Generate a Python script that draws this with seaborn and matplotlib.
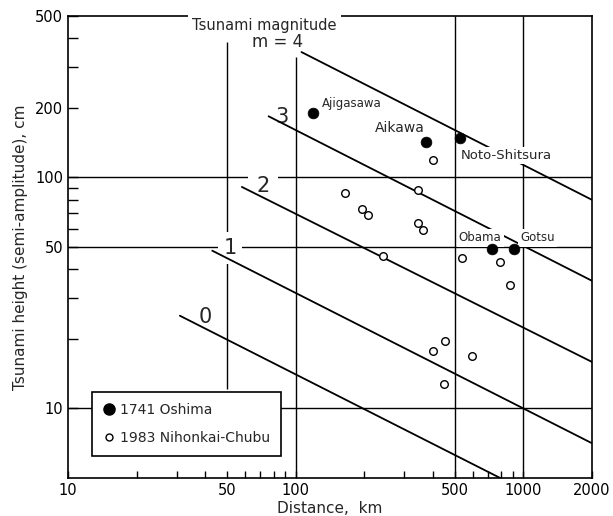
import numpy as np
import pandas as pd
import matplotlib.pyplot as plt
import matplotlib.ticker as mticker
from matplotlib.lines import Line2D
import seaborn as sns

# magnitude lines m = 0..4, straight on log-log paper (start / end)
mag_labels = ['0', '1', '2', '3', '4']
line_start_km = [31, 43, 58, 76, 106]
line_start_cm = [25.2, 48.2, 91, 184, 349]
line_end_km = [800, 2000, 2000, 2000, 2000]
line_end_cm = [4.97, 7.07, 15.9, 35.7, 80]

# 1741 Oshima (filled) and 1983 Nihonkai-Chubu (open) observations
oshima_names = ['Ajigasawa', 'Aikawa', 'Noto-Shitsura', 'Obama', 'Gotsu']
oshima_km = [119, 372, 524, 725, 912]
oshima_cm = [191, 143, 148, 49, 49]

chubu_km = [399, 164, 343, 195, 207, 343, 361, 241, 535, 785, 877, 451, 399, 597, 446]
chubu_cm = [119, 86, 88, 73, 69, 63.6, 59, 45.7, 44.8, 43, 34.2, 19.5, 17.8, 16.8, 12.7]

xtick_vals = [10, 50, 100, 500, 1000, 2000]
ytick_vals = [10, 50, 100, 200, 500]

sns.set_style('ticks')
plt.rcParams['font.family'] = ['DejaVu Sans']

fig, ax = plt.subplots(figsize=(6.13, 5.16), dpi=100)
fig.subplots_adjust(left=68/613, right=592/613, top=1-16/516, bottom=1-478/516)

ax.set_xscale('log')
ax.set_yscale('log')
ax.set_xlim(10, 2000)
ax.set_ylim(5, 500)

# grid lines (only a few, drawn by hand on the original)
for yv in [10, 50, 100]:
    ax.axhline(yv, color='black', lw=1.0, zorder=1)
ax.vlines(50, 12.2, 385, color='black', lw=1.0, zorder=1)
ax.vlines(100, 5, 332, color='black', lw=1.0, zorder=1)
ax.vlines([500, 1000], 5, 500, color='black', lw=1.0, zorder=1)

for i in range(len(mag_labels)):
    seg = pd.DataFrame({'km': [line_start_km[i], line_end_km[i]],
                        'cm': [line_start_cm[i], line_end_cm[i]]})
    sns.lineplot(data=seg, x='km', y='cm', color='black', lw=1.3, ax=ax, zorder=3)

oshima = pd.DataFrame({'km': oshima_km, 'cm': oshima_cm})
chubu = pd.DataFrame({'km': chubu_km, 'cm': chubu_cm})
sns.scatterplot(data=oshima, x='km', y='cm', color='black', s=60, edgecolor='black',
                linewidth=0.5, ax=ax, zorder=6)
sns.scatterplot(data=chubu, x='km', y='cm', facecolor='white', edgecolor='black',
                s=30, linewidth=1.0, ax=ax, zorder=6)

white = dict(facecolor='white', edgecolor='none', pad=1.5)
ax.text(73, 457, 'Tsunami magnitude', fontsize=10.5, ha='center', va='center',
        bbox=dict(facecolor='white', edgecolor='none', pad=3), zorder=5, clip_on=False)
ax.text(83, 385, 'm = 4', fontsize=12, ha='center', va='center', zorder=5)
ax.text(87, 182, '3', fontsize=15, ha='center', va='center', zorder=2)
ax.text(71.6, 92, '2', fontsize=15, ha='center', va='center', zorder=2,
        bbox=dict(facecolor='white', edgecolor='none', pad=6))
ax.text(51.4, 49.5, '1', fontsize=15, ha='center', va='center', zorder=2,
        bbox=dict(facecolor='white', edgecolor='none', pad=4))
ax.text(40, 24.8, '0', fontsize=15, ha='center', va='center', zorder=2)

ax.text(130, 209, 'Ajigasawa', fontsize=8.5, ha='left', va='center', zorder=5)
ax.text(368, 163, 'Aikawa', fontsize=10, ha='right', va='center', zorder=5)
ax.text(528, 124.5, 'Noto-Shitsura', fontsize=9.5, ha='left', va='center', zorder=5, bbox=white)
ax.text(520, 54.7, 'Obama', fontsize=8.5, ha='left', va='center', zorder=5, bbox=white)
ax.text(965, 54.7, 'Gotsu', fontsize=8.5, ha='left', va='center', zorder=5, bbox=white)

ax.set_xticks(xtick_vals)
ax.set_xticklabels([str(v) for v in xtick_vals])
ax.set_yticks(ytick_vals)
ax.set_yticklabels([str(v) for v in ytick_vals])
ax.xaxis.set_minor_locator(mticker.FixedLocator([20, 30, 40, 60, 70, 80, 90, 200, 300, 400,
                                                 600, 700, 800, 900]))
ax.yaxis.set_minor_locator(mticker.FixedLocator([20, 30, 40, 60, 70, 80, 90, 300, 400]))
ax.xaxis.set_minor_formatter(mticker.NullFormatter())
ax.yaxis.set_minor_formatter(mticker.NullFormatter())
ax.tick_params(axis='both', which='both', direction='in', width=1.0, labelsize=10.5,
               color='black', labelcolor='black')
ax.tick_params(axis='y', which='both', length=7)
ax.tick_params(axis='x', which='both', length=5)
for s in ax.spines.values():
    s.set_color('black')
    s.set_linewidth(1.2)

ax.set_xlabel('Distance,  km', fontsize=11, labelpad=2)
ax.set_ylabel('Tsunami height (semi-amplitude), cm', fontsize=11, labelpad=5)

handles = [Line2D([], [], marker='o', ls='none', color='black', markersize=8),
           Line2D([], [], marker='o', ls='none', markerfacecolor='white',
                  markeredgecolor='black', markersize=5)]
leg = ax.legend(handles, ['1741 Oshima', '1983 Nihonkai-Chubu'], loc='upper left',
                bbox_to_anchor=(0.046, 0.186), fontsize=10, frameon=True, fancybox=False,
                framealpha=1, edgecolor='black', handlelength=0.8, handletextpad=0.4,
                borderpad=0.8, labelspacing=1.0, borderaxespad=0)
leg.get_frame().set_linewidth(1.2)
leg.set_zorder(7)

plt.savefig('out.png', dpi=100)
